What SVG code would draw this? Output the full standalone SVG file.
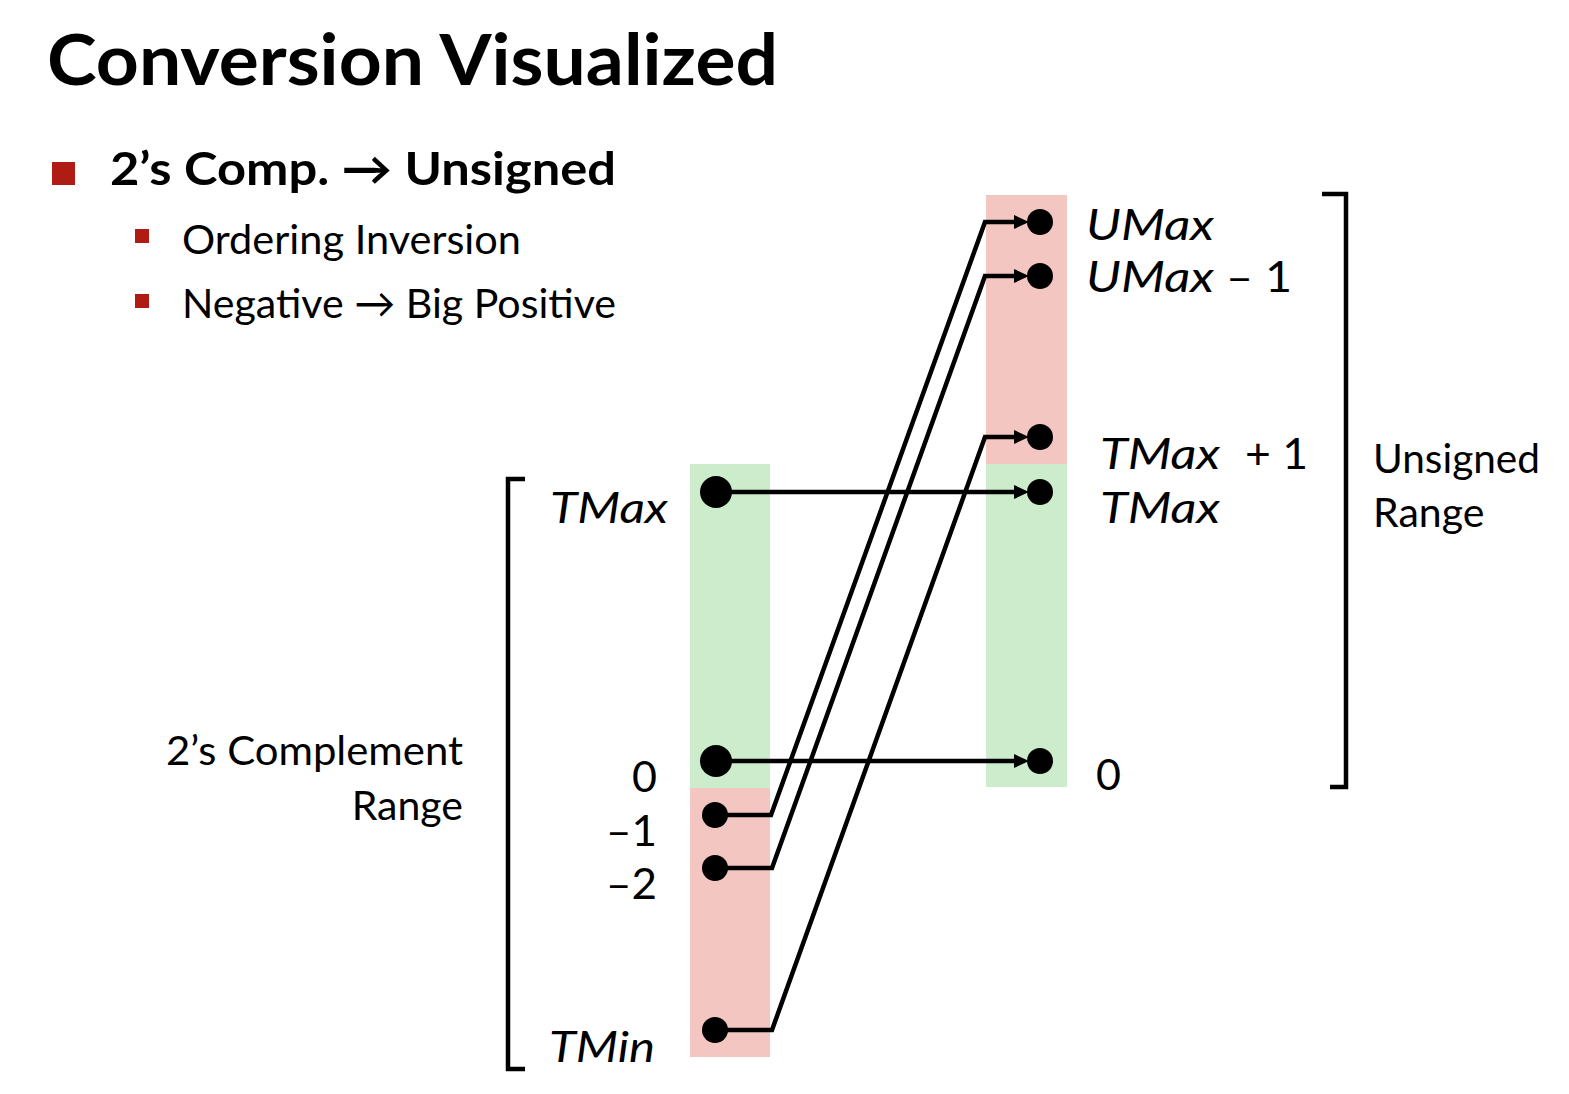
<svg xmlns="http://www.w3.org/2000/svg" width="1569" height="1094" viewBox="0 0 1569 1094">
<style>
  text { font-family: Lato, "Open Sans", "Liberation Sans", sans-serif; fill: #000; }
  .title { font-size: 70px; font-weight: bold; }
  .b1 { font-size: 46px; font-weight: bold; }
  .b2 { font-size: 41px; }
  .lbl { font-size: 43px; }
  .it { font-style: italic; }
  .pink { fill: #f3c6c2; }
  .green { fill: #cdeccb; }
  .bul { fill: #b01c14; }
  .dot { fill: #000; }
  .conn { fill: none; stroke: #000; stroke-width: 4.5; }
  .brk { fill: none; stroke: #000; stroke-width: 4.5; }
</style>
<defs>
  <marker id="ah" markerUnits="userSpaceOnUse" markerWidth="18" markerHeight="16" refX="6" refY="7" orient="auto">
    <path d="M0,0 L15,7 L0,14 Z" fill="#000"/>
  </marker>
</defs>
<rect width="1569" height="1094" fill="#fff"/>

<g id="title">
  <text class="title" x="47" y="85" textLength="731" lengthAdjust="spacingAndGlyphs">Conversion Visualized</text>
</g>
<g id="bullets">
  <rect class="bul" x="52" y="162" width="23" height="23"/>
  <text class="b1" x="110" y="185" textLength="506" lengthAdjust="spacingAndGlyphs">2’s Comp. → Unsigned</text>
  <rect class="bul" x="135" y="229" width="14" height="14"/>
  <text class="b2" x="182" y="254" textLength="339" lengthAdjust="spacingAndGlyphs">Ordering Inversion</text>
  <rect class="bul" x="135" y="294" width="14" height="14"/>
  <text class="b2" x="182" y="318" textLength="434" lengthAdjust="spacingAndGlyphs">Negative → Big Positive</text>
</g>

<g id="bands">
  <rect class="green" x="690" y="464" width="80" height="324"/>
  <rect class="pink" x="690" y="788" width="80" height="269"/>
  <rect class="pink" x="986" y="195" width="81" height="269"/>
  <rect class="green" x="986" y="464" width="81" height="323"/>
</g>

<g id="brackets">
  <path class="brk" d="M525,479 H508 V1069 H525"/>
  <path class="brk" d="M1322,194 H1346 V787 H1330"/>
</g>

<g id="range-labels">
  <text class="b2" x="463" y="765" text-anchor="end" textLength="297" lengthAdjust="spacingAndGlyphs">2’s Complement</text>
  <text class="b2" x="463" y="820" text-anchor="end">Range</text>
  <text class="b2" x="1373" y="473" textLength="167" lengthAdjust="spacingAndGlyphs">Unsigned</text>
  <text class="b2" x="1373" y="527">Range</text>
</g>

<g id="connectors">
  <path class="conn" d="M716,492 H1020" marker-end="url(#ah)"/>
  <path class="conn" d="M716,761 H1020" marker-end="url(#ah)"/>
  <path class="conn" d="M715,815 H771 L985,222 H1020" marker-end="url(#ah)"/>
  <path class="conn" d="M715,868 H772 L985,276 H1020" marker-end="url(#ah)"/>
  <path class="conn" d="M715,1030 H772 L985,437 H1020" marker-end="url(#ah)"/>
</g>

<g id="node-tmax-left">
  <circle class="dot" cx="716" cy="492" r="16"/>
  <text class="lbl it" x="550" y="523" textLength="118" lengthAdjust="spacingAndGlyphs">TMax</text>
</g>
<g id="node-zero-left">
  <circle class="dot" cx="716" cy="761" r="16"/>
  <text class="lbl" x="657" y="792" text-anchor="end">0</text>
</g>
<g id="node-m1-left">
  <circle class="dot" cx="715" cy="815" r="13"/>
  <text class="lbl" x="657" y="846" text-anchor="end" textLength="51" lengthAdjust="spacingAndGlyphs">–1</text>
</g>
<g id="node-m2-left">
  <circle class="dot" cx="715" cy="868" r="13"/>
  <text class="lbl" x="657" y="899" text-anchor="end" textLength="51" lengthAdjust="spacingAndGlyphs">–2</text>
</g>
<g id="node-tmin-left">
  <circle class="dot" cx="715" cy="1030" r="13"/>
  <text class="lbl it" x="549" y="1062" textLength="106" lengthAdjust="spacingAndGlyphs">TMin</text>
</g>

<g id="node-umax">
  <circle class="dot" cx="1040" cy="222" r="13"/>
  <text class="lbl it" x="1086" y="240" textLength="128" lengthAdjust="spacingAndGlyphs">UMax</text>
</g>
<g id="node-umax-1">
  <circle class="dot" cx="1040" cy="276" r="13"/>
  <text class="lbl it" x="1086" y="292" textLength="128" lengthAdjust="spacingAndGlyphs">UMax</text>
  <text class="lbl" x="1226" y="292" textLength="66" lengthAdjust="spacingAndGlyphs">– 1</text>
</g>
<g id="node-tmax-plus-1">
  <circle class="dot" cx="1040" cy="437" r="13"/>
  <text class="lbl it" x="1100" y="469" textLength="120" lengthAdjust="spacingAndGlyphs">TMax</text>
  <text class="lbl" x="1245" y="469" textLength="63" lengthAdjust="spacingAndGlyphs">+ 1</text>
</g>
<g id="node-tmax-right">
  <circle class="dot" cx="1040" cy="492" r="13"/>
  <text class="lbl it" x="1100" y="523" textLength="120" lengthAdjust="spacingAndGlyphs">TMax</text>
</g>
<g id="node-zero-right">
  <circle class="dot" cx="1040" cy="761" r="13"/>
  <text class="lbl" x="1096" y="790">0</text>
</g>
</svg>
